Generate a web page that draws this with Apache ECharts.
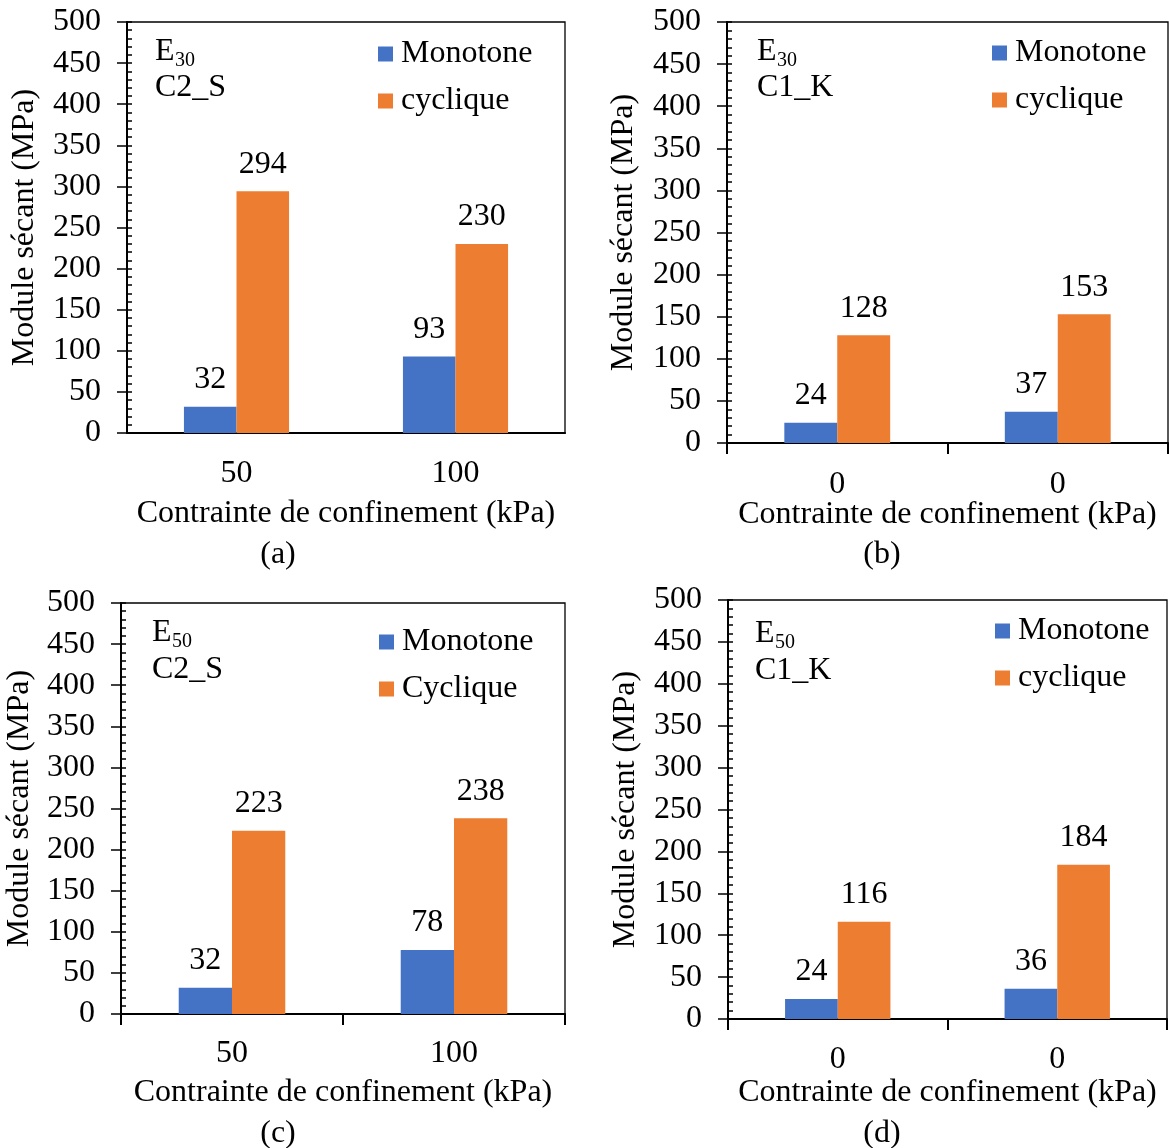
<!DOCTYPE html>
<html>
<head>
<meta charset="utf-8">
<script src="https://cdn.jsdelivr.net/npm/echarts@6/dist/echarts.min.js"></script>
<style>
  html, body { margin: 0; padding: 0; background: #fff; }
  #chart { width: 1169px; height: 1148px; }
</style>
</head>
<body>
<div id="chart"></div>
<script>
// ---- Data ----
const categoriesA = ['50', '100'];
const monotoneA = [32, 93];
const cycliqueA = [294, 230];

const categoriesB = ['0', '0'];
const monotoneB = [24, 37];
const cycliqueB = [128, 153];

const categoriesC = ['50', '100'];
const monotoneC = [32, 78];
const cycliqueC = [223, 238];

const categoriesD = ['0', '0'];
const monotoneD = [24, 36];
const cycliqueD = [116, 184];

const yMin = 0, yMax = 500, yStep = 50;
const yTitle = 'Module sécant (MPa)';
const xTitle = 'Contrainte de confinement (kPa)';

const FONT = "'Liberation Serif', 'Times New Roman', serif";
const FS = 32;
const BLUE = '#4472C4';
const ORANGE = '#ED7D31';

const panels = [
  { cats: categoriesA, mono: monotoneA, cyc: cycliqueA, cycName: 'cyclique',
    grid: { left: 127, top: 22, width: 438, height: 411 },
    xTicks: false, xLabelMargin: 25, xNameGap: 65, yNameGap: 86,
    legend: { left: 373, top: 33 },
    eName: '30', sample: 'C2_S', eOff: [28, 41], cOff: 77, tag: '(a)', tagPos: [278, 555] },
  { cats: categoriesB, mono: monotoneB, cyc: cycliqueB, cycName: 'cyclique',
    grid: { left: 727, top: 22, width: 441, height: 421 },
    xTicks: true, xLabelMargin: 26, xNameGap: 56, yNameGap: 87,
    legend: { left: 987, top: 32 },
    eName: '30', sample: 'C1_K', eOff: [30, 41], cOff: 77, tag: '(b)', tagPos: [882, 555] },
  { cats: categoriesC, mono: monotoneC, cyc: cycliqueC, cycName: 'Cyclique',
    grid: { left: 121, top: 603, width: 444, height: 411 },
    xTicks: true, xLabelMargin: 24, xNameGap: 63, yNameGap: 85,
    legend: { left: 374, top: 621 },
    eName: '50', sample: 'C2_S', eOff: [31, 41], cOff: 78, tag: '(c)', tagPos: [278, 1134] },
  { cats: categoriesD, mono: monotoneD, cyc: cycliqueD, cycName: 'cyclique',
    grid: { left: 728, top: 600, width: 439, height: 419 },
    xTicks: true, xLabelMargin: 25, xNameGap: 58, yNameGap: 86,
    legend: { left: 990, top: 610 },
    eName: '50', sample: 'C1_K', eOff: [27, 45], cOff: 82, tag: '(d)', tagPos: [882, 1134] }
];

const grids = [], xAxes = [], yAxes = [], series = [], legends = [], graphics = [];

panels.forEach((p, i) => {
  grids.push(Object.assign({ show: true, borderColor: '#000', borderWidth: 1.3, containLabel: false }, p.grid));

  xAxes.push({
    type: 'category', gridIndex: i, data: p.cats,
    axisLine: { show: true, lineStyle: { color: '#000', width: 2 } },
    axisTick: { show: p.xTicks, inside: false, length: 11, lineStyle: { color: '#000', width: 2 } },
    axisLabel: { color: '#000', fontFamily: FONT, fontSize: FS, margin: p.xLabelMargin },
    name: xTitle, nameLocation: 'middle', nameGap: p.xNameGap, nameMoveOverlap: false,
    nameTextStyle: { color: '#000', fontFamily: FONT, fontSize: FS },
    splitLine: { show: false }
  });

  // main y axis: labels + outward major ticks
  yAxes.push({
    type: 'value', gridIndex: i, min: yMin, max: yMax, interval: yStep,
    axisLine: { show: true, lineStyle: { color: '#000', width: 2 } },
    axisTick: { show: true, inside: false, length: 10, lineStyle: { color: '#000', width: 1.5 } },
    axisLabel: { color: '#000', fontFamily: FONT, fontSize: FS, margin: 26 },
    name: yTitle, nameLocation: 'middle', nameGap: p.yNameGap, nameMoveOverlap: false,
    nameTextStyle: { color: '#000', fontFamily: FONT, fontSize: FS },
    splitLine: { show: false }
  });
  // overlay y axis: inward major + minor ticks
  yAxes.push({
    type: 'value', gridIndex: i, min: yMin, max: yMax, interval: yStep, position: 'left',
    axisLine: { show: false },
    axisTick: { show: true, inside: true, length: 5, lineStyle: { color: '#000', width: 1.5 } },
    minorTick: { show: true, splitNumber: 5, length: 5, lineStyle: { color: '#000', width: 1.5 } },
    axisLabel: { show: false },
    splitLine: { show: false }
  });

  const labelCfg = { show: true, position: 'top', distance: 11, color: '#000', fontFamily: FONT, fontSize: FS };
  series.push({
    name: 'Monotone', type: 'bar', xAxisIndex: i, yAxisIndex: i * 2,
    data: p.mono, barWidth: '24%', barGap: '0%',
    itemStyle: { color: BLUE }, label: labelCfg
  });
  series.push({
    name: p.cycName, type: 'bar', xAxisIndex: i, yAxisIndex: i * 2,
    data: p.cyc, barWidth: '24%', barGap: '0%',
    itemStyle: { color: ORANGE }, label: labelCfg
  });

  legends.push({
    orient: 'vertical', left: p.legend.left, top: p.legend.top,
    data: ['Monotone', p.cycName], icon: 'rect', itemWidth: 15, itemHeight: 15, itemGap: 15,
    selectedMode: false,
    textStyle: { color: '#000', fontFamily: FONT, fontSize: FS, lineHeight: 32, padding: [0, 0, 0, 3] }
  });

  const gx = p.grid.left + p.eOff[0];
  const eBase = p.grid.top + p.eOff[1];
  graphics.push({
    type: 'text', left: gx, top: eBase - 27, z: 100,
    style: { text: 'E', fontFamily: FONT, fontSize: FS, fill: '#000' }
  });
  graphics.push({
    type: 'text', left: gx + 20, top: eBase - 12, z: 100,
    style: { text: p.eName, fontFamily: FONT, fontSize: 20, fill: '#000' }
  });
  graphics.push({
    type: 'text', left: gx, top: p.grid.top + p.cOff - 27, z: 100,
    style: { text: p.sample, fontFamily: FONT, fontSize: FS, fill: '#000' }
  });
  graphics.push({
    type: 'text', x: p.tagPos[0], y: p.tagPos[1], z: 100,
    style: { text: p.tag, fontFamily: FONT, fontSize: FS, fill: '#000', align: 'center', verticalAlign: 'middle' }
  });
});

const chart = echarts.init(document.getElementById('chart'), null, { renderer: 'canvas' });
chart.setOption({
  backgroundColor: '#fff',
  animation: false,
  textStyle: { fontFamily: FONT },
  grid: grids, xAxis: xAxes, yAxis: yAxes, series: series, legend: legends,
  graphic: graphics
});
</script>
</body>
</html>
